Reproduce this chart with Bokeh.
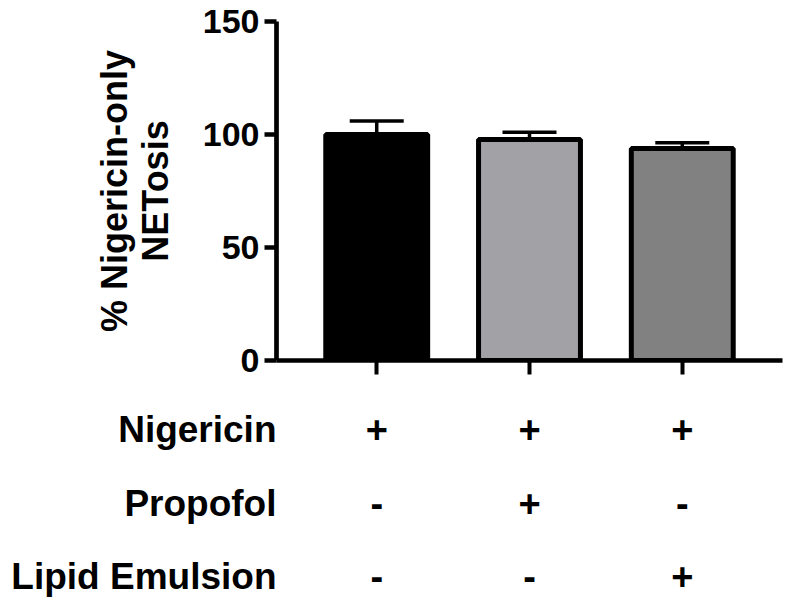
from bokeh.plotting import figure
from bokeh.layouts import column
from bokeh.models import (ColumnDataSource, FactorRange, Range1d, Whisker, TeeHead, FixedTicker)
from bokeh.core.properties import value
from bokeh.embed import file_html
from bokeh.resources import INLINE

# ---- data ----
groups = ["Nigericin", "Nigericin + Propofol", "Nigericin + Lipid Emulsion"]
values = [100.0, 97.8, 93.8]
errors = [6.0, 3.2, 2.6]
bar_colors = ["#000000", "#a2a1a6", "#818181"]
y_ticks = [0, 50, 100, 150]

row_names = ["Nigericin", "Propofol", "Lipid Emulsion"]
row_signs = [
    ["+", "+", "+"],
    ["-", "+", "-"],
    ["-", "-", "+"],
]

FONT = "Liberation Sans"

# ---- layout constants ----
W = 789
H = 605
FRAME_L = 276
FRAME_R_BORDER = 7
TOP_BORDER = 21
FRAME_H = 339
BOTTOM_BORDER = 22
TOP_H = TOP_BORDER + FRAME_H + BOTTOM_BORDER
BOT_H = H - TOP_H
PAD = 0.156

xr = FactorRange(factors=groups, range_padding=PAD, range_padding_units="absolute")

p = figure(width=W, height=TOP_H, x_range=xr, y_range=Range1d(0, 150),
           output_backend="svg", toolbar_location=None,
           min_border_left=FRAME_L, min_border_right=FRAME_R_BORDER,
           min_border_top=TOP_BORDER, min_border_bottom=BOTTOM_BORDER)
p.outline_line_color = None
p.xgrid.grid_line_color = None
p.ygrid.grid_line_color = None

src = ColumnDataSource(dict(x=groups, top=values, color=bar_colors,
                            upper=[v + e for v, e in zip(values, errors)], lower=values))
p.vbar(x="x", top="top", width=0.667, bottom=0, source=src,
       fill_color="color", line_color="black", line_width=5)

w = Whisker(base="x", upper="upper", lower="lower", source=src,
            upper_head=TeeHead(size=54, line_width=3.5, line_color="black"),
            lower_head=None, line_width=3.5, line_color="black")
p.add_layout(w)

# y axis
ya = p.yaxis[0]
ya.ticker = FixedTicker(ticks=y_ticks)
ya.minor_tick_line_color = None
ya.major_tick_out = 12
ya.major_tick_in = 0
ya.major_tick_line_width = 4.5
ya.axis_line_width = 4.7
ya.major_label_text_font = FONT
ya.major_label_text_font_style = "bold"
ya.major_label_text_font_size = "34px"
ya.major_label_text_color = "black"
ya.major_label_standoff = 5
ya.axis_label = "% Nigericin-only\nNETosis"
ya.axis_label_text_font = FONT
ya.axis_label_text_font_style = "bold"
ya.axis_label_text_font_size = "36px"
ya.axis_label_text_color = "black"
ya.axis_label_text_line_height = 1.0
ya.axis_label_standoff = 24

# x axis
xa = p.xaxis[0]
xa.minor_tick_line_color = None
xa.major_tick_out = 14
xa.major_tick_in = 0
xa.major_tick_line_width = 4
xa.axis_line_width = 4.7
xa.major_label_text_font_size = "0px"
xa.major_label_text_color = None
xa.major_label_standoff = 0

# ---- table of treatments below the chart ----
ROW0 = 46.7      # px from top of table panel to centre of first row
ROW_STEP = 73.8  # px between rows
y_end = -ROW0 / ROW_STEP
y_start = y_end + BOT_H / ROW_STEP
row_idx = list(range(len(row_names)))

q = figure(width=W, height=BOT_H, x_range=xr, y_range=Range1d(y_start, y_end),
           output_backend="svg", toolbar_location=None,
           min_border_left=FRAME_L, min_border_right=FRAME_R_BORDER,
           min_border_top=0, min_border_bottom=0)
q.xaxis.visible = False
q.xgrid.grid_line_color = None
q.ygrid.grid_line_color = None
q.outline_line_color = None

qa = q.yaxis[0]
qa.ticker = FixedTicker(ticks=row_idx)
qa.major_label_overrides = {i: n for i, n in zip(row_idx, row_names)}
qa.axis_line_color = None
qa.major_tick_line_color = None
qa.minor_tick_line_color = None
qa.major_tick_out = 0
qa.major_tick_in = 0
qa.major_label_standoff = 0
qa.major_label_text_font = FONT
qa.major_label_text_font_style = "bold"
qa.major_label_text_font_size = "37px"
qa.major_label_text_color = "black"

tx, ty, tt = [], [], []
for r, signs in zip(row_idx, row_signs):
    for g, s in zip(groups, signs):
        tx.append(g)
        ty.append(r)
        tt.append(s)
q.text(x=tx, y=ty, text=tt, text_align="center", text_baseline="middle",
       text_font=value(FONT), text_font_style="bold", text_font_size="38px", text_color="black")

layout = column(p, q, spacing=0)
open("out.html", "w").write(file_html(layout, INLINE))
